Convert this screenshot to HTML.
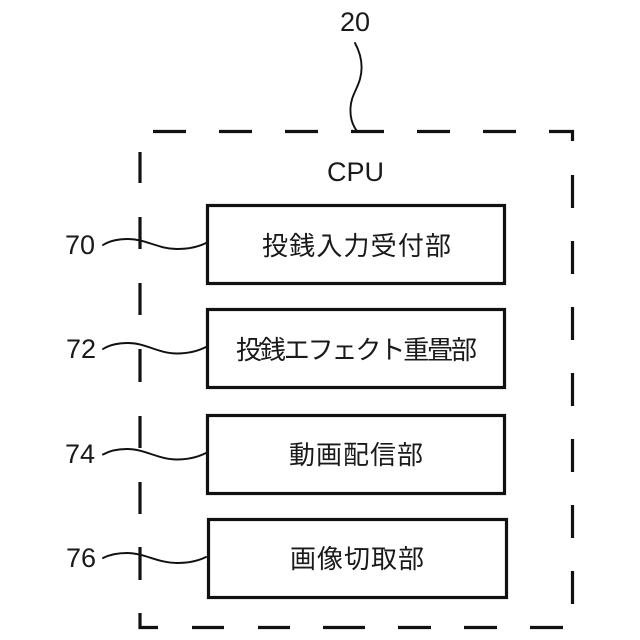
<!DOCTYPE html>
<html>
<head>
<meta charset="utf-8">
<style>
html,body{margin:0;padding:0;background:#fff;width:640px;height:640px;overflow:hidden}
svg{display:block}
.n{font-family:"Liberation Sans",sans-serif;font-size:27px;fill:#1a1a1a}
.j{font-family:"Liberation Sans","Noto Sans CJK JP",sans-serif;font-size:26px;fill:#1a1a1a;text-anchor:start}
.b{fill:#fff;stroke:#111;stroke-width:3.2}
.d{stroke:#111;stroke-width:3.2;fill:none}
.w{stroke:#111;stroke-width:1.9;fill:none;stroke-linecap:round}
</style>
</head>
<body>
<svg width="640" height="640" viewBox="0 0 640 640" xmlns="http://www.w3.org/2000/svg">
<path class="d" d="M153 131.5H186M219 131.5H252M285 131.5H318M351 131.5H384M417 131.5H450M483 131.5H516M549 131.5H572.5V141M572.5 175V208M572.5 241V274M572.5 307V340M572.5 373V406M572.5 439V472M572.5 505V538M572.5 571V604"/>
<path class="d" d="M563 627.5H530M497 627.5H464M431 627.5H398M365 627.5H323M290 627.5H258M224 627.5H192M158 627.5H140V613M140 580V547M140 514V482M140 448V416M140 382V349M140 315V283M140 249V217M140 183V152"/>
<rect class="b" x="207.5" y="205.5" width="297" height="78"/>
<rect class="b" x="207.5" y="309.5" width="297" height="78"/>
<rect class="b" x="207.5" y="415.5" width="297" height="78"/>
<rect class="b" x="208.5" y="519.5" width="298" height="78"/>
<path class="w" d="M355 43C362 56 363 68 360 79C357 90 351 96 350.500 108C350 118 353 126 357 131"/>
<path class="w" d="M103 245C111 240 120 239 128 239C146 239 158 249 177 249C189 249 198 247 206 243"/>
<path class="w" d="M103 349C111 344 120 343 128 343C146 343 158 353.500 177 353.500C189 353.500 198 351 206 347"/>
<path class="w" d="M103 454.500C111 450 120 449 127 449C145 449 158 459.500 177 459.500C189 459.500 198 457 206 453"/>
<path class="w" d="M103 558C111 554 119 553 127 553C144 553 158 563 177 563C189 563 198 561 206 557"/>
<text class="n" x="340" y="31">20</text>
<text class="n" x="327" y="181">CPU</text>
<text class="n" x="65" y="254">70</text>
<text class="n" x="66" y="358">72</text>
<text class="n" x="65" y="463">74</text>
<text class="n" x="66" y="567">76</text>
<text class="j" x="262" y="255" textLength="189" lengthAdjust="spacing">投銭入力受付部</text>
<text class="j" x="236" y="359" textLength="241" lengthAdjust="spacing">投銭エフェクト重畳部</text>
<text class="j" x="289" y="464" textLength="134" lengthAdjust="spacing">動画配信部</text>
<text class="j" x="290" y="568" textLength="134" lengthAdjust="spacing">画像切取部</text>
</svg>
</body>
</html>
